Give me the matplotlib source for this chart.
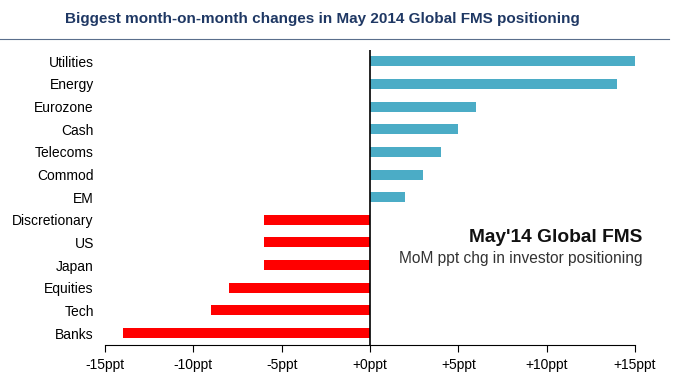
import matplotlib
matplotlib.use("Agg")
import matplotlib.pyplot as plt

categories = ["Utilities", "Energy", "Eurozone", "Cash", "Telecoms", "Commod", "EM",
              "Discretionary", "US", "Japan", "Equities", "Tech", "Banks"]
changes = [15, 14, 6, 5, 4, 3, 2, -6, -6, -6, -8, -9, -14]
tick_vals = [-15, -10, -5, 0, 5, 10, 15]
tick_labels = ["-15ppt", "-10ppt", "-5ppt", "+0ppt", "+5ppt", "+10ppt", "+15ppt"]

plt.rcParams['font.family'] = ['Liberation Sans', 'DejaVu Sans']

fig = plt.figure(figsize=(6.83, 3.86), dpi=100)
ax = fig.add_axes([0.1537, 0.106, 0.776, 0.764])

n = len(categories)
ypos = list(range(n - 1, -1, -1))
colors = ["#4BACC6" if v > 0 else "#FF0000" for v in changes]
ax.barh(ypos, changes, height=0.44, color=colors)

ax.set_xlim(-15, 15)
ax.set_ylim(-0.53, n - 0.51)
ax.set_xticks(tick_vals)
ax.set_xticklabels(tick_labels, fontsize=10)
ax.set_yticks(ypos)
ax.set_yticklabels(categories, fontsize=10)
ax.tick_params(axis='y', length=0, pad=8)
ax.tick_params(axis='x', direction='out', length=5, pad=4)

for s in ['top', 'right', 'left']:
    ax.spines[s].set_visible(False)
ax.spines['bottom'].set_color('black')
ax.axvline(0, color='black', lw=1.2)

ax.text(15.4, 4.23, "May'14 Global FMS", ha='right', va='center',
        fontsize=13.8, fontweight='bold', color='#111111', clip_on=False)
ax.text(15.4, 3.28, "MoM ppt chg in investor positioning", ha='right', va='center',
        fontsize=11.2, color='#333333', clip_on=False)

fig.text(0.095, 0.952, "Biggest month-on-month changes in May 2014 Global FMS positioning",
         fontsize=11, fontweight='bold', color='#1F3864', va='center')
fig.add_artist(plt.Line2D([0.0, 0.98], [0.898, 0.898], color='#5A6E8C', lw=0.8))

fig.savefig("out.png", dpi=100)
